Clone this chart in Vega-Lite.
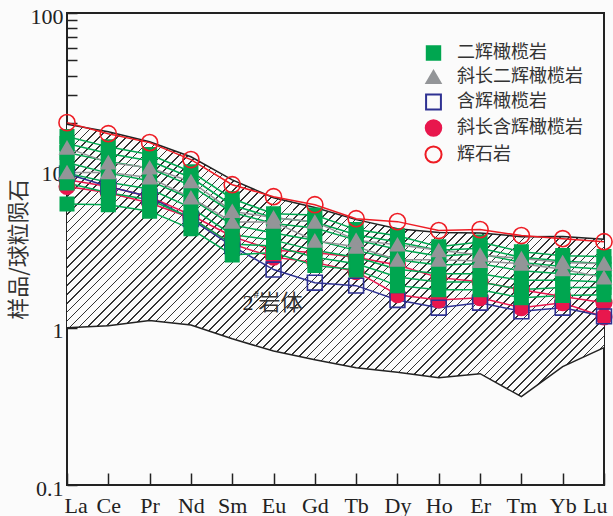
{
"$schema":"https://vega.github.io/schema/vega-lite/v6.json",
"width":537,"height":472,
"autosize":{"type":"none"},
"padding":{"left":67,"top":13,"right":9,"bottom":31},
"background":"#fbfbfb",
"config":{"view":{"stroke":"#222","strokeWidth":2},"font":"Liberation Serif"},
"datasets":{
"b":[
{"e":"La","up":19.6,"lo":1.0},{"e":"Ce","up":17.6,"lo":1.03},{"e":"Pr","up":15.2,"lo":1.11},{"e":"Nd","up":12.2,"lo":1.04},{"e":"Sm","up":8.7,"lo":0.85},{"e":"Eu","up":6.7,"lo":0.71},{"e":"Gd","up":5.8,"lo":0.626},{"e":"Tb","up":4.86,"lo":0.557},{"e":"Dy","up":4.26,"lo":0.52},{"e":"Ho","up":4.02,"lo":0.48},{"e":"Er","up":4.0,"lo":0.51},{"e":"Tm","up":3.79,"lo":0.364},{"e":"Yb","up":3.8,"lo":0.565},{"e":"Lu","up":3.65,"lo":0.746}
],
"s":[
{"t":"斜长含辉橄榄岩","s":"R1","e":"La","v":8.7},{"t":"斜长含辉橄榄岩","s":"R1","e":"Ce","v":7.9},{"t":"斜长含辉橄榄岩","s":"R1","e":"Pr","v":6.8},{"t":"斜长含辉橄榄岩","s":"R1","e":"Nd","v":5.2},{"t":"斜长含辉橄榄岩","s":"R1","e":"Sm","v":3.8},{"t":"斜长含辉橄榄岩","s":"R1","e":"Eu","v":3.1},{"t":"斜长含辉橄榄岩","s":"R1","e":"Gd","v":3.0},{"t":"斜长含辉橄榄岩","s":"R1","e":"Tb","v":2.8},{"t":"斜长含辉橄榄岩","s":"R1","e":"Dy","v":2.5},{"t":"斜长含辉橄榄岩","s":"R1","e":"Ho","v":2.08},{"t":"斜长含辉橄榄岩","s":"R1","e":"Er","v":1.96},{"t":"斜长含辉橄榄岩","s":"R1","e":"Tm","v":1.74},{"t":"斜长含辉橄榄岩","s":"R1","e":"Yb","v":1.58},{"t":"斜长含辉橄榄岩","s":"R1","e":"Lu","v":1.44},
{"t":"斜长含辉橄榄岩","s":"R2","e":"La","v":7.9},{"t":"斜长含辉橄榄岩","s":"R2","e":"Ce","v":7.2},{"t":"斜长含辉橄榄岩","s":"R2","e":"Pr","v":6.2},{"t":"斜长含辉橄榄岩","s":"R2","e":"Nd","v":5.0},{"t":"斜长含辉橄榄岩","s":"R2","e":"Sm","v":3.4},{"t":"斜长含辉橄榄岩","s":"R2","e":"Eu","v":2.8},{"t":"斜长含辉橄榄岩","s":"R2","e":"Gd","v":2.6},{"t":"斜长含辉橄榄岩","s":"R2","e":"Tb","v":2.27},{"t":"斜长含辉橄榄岩","s":"R2","e":"Dy","v":1.62},{"t":"斜长含辉橄榄岩","s":"R2","e":"Ho","v":1.5},{"t":"斜长含辉橄榄岩","s":"R2","e":"Er","v":1.55},{"t":"斜长含辉橄榄岩","s":"R2","e":"Tm","v":1.34},{"t":"斜长含辉橄榄岩","s":"R2","e":"Yb","v":1.44},{"t":"斜长含辉橄榄岩","s":"R2","e":"Lu","v":1.17},
{"t":"含辉橄榄岩","s":"B1","e":"La","v":9.5},{"t":"含辉橄榄岩","s":"B1","e":"Ce","v":7.9},{"t":"含辉橄榄岩","s":"B1","e":"Pr","v":6.8},{"t":"含辉橄榄岩","s":"B1","e":"Nd","v":4.9},{"t":"含辉橄榄岩","s":"B1","e":"Sm","v":3.3},{"t":"含辉橄榄岩","s":"B1","e":"Eu","v":2.34},{"t":"含辉橄榄岩","s":"B1","e":"Gd","v":1.93},{"t":"含辉橄榄岩","s":"B1","e":"Tb","v":1.85},{"t":"含辉橄榄岩","s":"B1","e":"Dy","v":1.5},{"t":"含辉橄榄岩","s":"B1","e":"Ho","v":1.34},{"t":"含辉橄榄岩","s":"B1","e":"Er","v":1.44},{"t":"含辉橄榄岩","s":"B1","e":"Tm","v":1.27},{"t":"含辉橄榄岩","s":"B1","e":"Yb","v":1.34},{"t":"含辉橄榄岩","s":"B1","e":"Lu","v":1.18},
{"t":"二辉橄榄岩","s":"G1","e":"La","v":16.4},{"t":"二辉橄榄岩","s":"G1","e":"Ce","v":14.1},{"t":"二辉橄榄岩","s":"G1","e":"Pr","v":12.6},{"t":"二辉橄榄岩","s":"G1","e":"Nd","v":9.8},{"t":"二辉橄榄岩","s":"G1","e":"Sm","v":6.6},{"t":"二辉橄榄岩","s":"G1","e":"Eu","v":5.3},{"t":"二辉橄榄岩","s":"G1","e":"Gd","v":5.2},{"t":"二辉橄榄岩","s":"G1","e":"Tb","v":4.2},{"t":"二辉橄榄岩","s":"G1","e":"Dy","v":3.84},{"t":"二辉橄榄岩","s":"G1","e":"Ho","v":3.27},{"t":"二辉橄榄岩","s":"G1","e":"Er","v":3.5},{"t":"二辉橄榄岩","s":"G1","e":"Tm","v":3.04},{"t":"二辉橄榄岩","s":"G1","e":"Yb","v":2.87},{"t":"二辉橄榄岩","s":"G1","e":"Lu","v":2.83},
{"t":"二辉橄榄岩","s":"G2","e":"La","v":14.8},{"t":"二辉橄榄岩","s":"G2","e":"Ce","v":12.8},{"t":"二辉橄榄岩","s":"G2","e":"Pr","v":11.5},{"t":"二辉橄榄岩","s":"G2","e":"Nd","v":9.0},{"t":"二辉橄榄岩","s":"G2","e":"Sm","v":6.0},{"t":"二辉橄榄岩","s":"G2","e":"Eu","v":5.0},{"t":"二辉橄榄岩","s":"G2","e":"Gd","v":4.7},{"t":"二辉橄榄岩","s":"G2","e":"Tb","v":3.9},{"t":"二辉橄榄岩","s":"G2","e":"Dy","v":3.5},{"t":"二辉橄榄岩","s":"G2","e":"Ho","v":3.1},{"t":"二辉橄榄岩","s":"G2","e":"Er","v":3.2},{"t":"二辉橄榄岩","s":"G2","e":"Tm","v":2.8},{"t":"二辉橄榄岩","s":"G2","e":"Yb","v":2.65},{"t":"二辉橄榄岩","s":"G2","e":"Lu","v":2.55},
{"t":"二辉橄榄岩","s":"G3","e":"La","v":13.0},{"t":"二辉橄榄岩","s":"G3","e":"Ce","v":11.4},{"t":"二辉橄榄岩","s":"G3","e":"Pr","v":10.3},{"t":"二辉橄榄岩","s":"G3","e":"Nd","v":8.0},{"t":"二辉橄榄岩","s":"G3","e":"Sm","v":5.4},{"t":"二辉橄榄岩","s":"G3","e":"Eu","v":4.6},{"t":"二辉橄榄岩","s":"G3","e":"Gd","v":4.3},{"t":"二辉橄榄岩","s":"G3","e":"Tb","v":3.6},{"t":"二辉橄榄岩","s":"G3","e":"Dy","v":3.15},{"t":"二辉橄榄岩","s":"G3","e":"Ho","v":2.85},{"t":"二辉橄榄岩","s":"G3","e":"Er","v":2.95},{"t":"二辉橄榄岩","s":"G3","e":"Tm","v":2.6},{"t":"二辉橄榄岩","s":"G3","e":"Yb","v":2.45},{"t":"二辉橄榄岩","s":"G3","e":"Lu","v":2.35},
{"t":"二辉橄榄岩","s":"G4","e":"La","v":11.2},{"t":"二辉橄榄岩","s":"G4","e":"Ce","v":9.6},{"t":"二辉橄榄岩","s":"G4","e":"Pr","v":8.6},{"t":"二辉橄榄岩","s":"G4","e":"Nd","v":6.6},{"t":"二辉橄榄岩","s":"G4","e":"Sm","v":4.5},{"t":"二辉橄榄岩","s":"G4","e":"Eu","v":4.0},{"t":"二辉橄榄岩","s":"G4","e":"Gd","v":3.6},{"t":"二辉橄榄岩","s":"G4","e":"Tb","v":3.1},{"t":"二辉橄榄岩","s":"G4","e":"Dy","v":2.7},{"t":"二辉橄榄岩","s":"G4","e":"Ho","v":2.5},{"t":"二辉橄榄岩","s":"G4","e":"Er","v":2.55},{"t":"二辉橄榄岩","s":"G4","e":"Tm","v":2.3},{"t":"二辉橄榄岩","s":"G4","e":"Yb","v":2.2},{"t":"二辉橄榄岩","s":"G4","e":"Lu","v":2.15},
{"t":"二辉橄榄岩","s":"G5","e":"La","v":9.6},{"t":"二辉橄榄岩","s":"G5","e":"Ce","v":8.4},{"t":"二辉橄榄岩","s":"G5","e":"Pr","v":7.6},{"t":"二辉橄榄岩","s":"G5","e":"Nd","v":5.8},{"t":"二辉橄榄岩","s":"G5","e":"Sm","v":3.9},{"t":"二辉橄榄岩","s":"G5","e":"Eu","v":3.6},{"t":"二辉橄榄岩","s":"G5","e":"Gd","v":3.1},{"t":"二辉橄榄岩","s":"G5","e":"Tb","v":2.8},{"t":"二辉橄榄岩","s":"G5","e":"Dy","v":2.35},{"t":"二辉橄榄岩","s":"G5","e":"Ho","v":2.2},{"t":"二辉橄榄岩","s":"G5","e":"Er","v":2.2},{"t":"二辉橄榄岩","s":"G5","e":"Tm","v":2.0},{"t":"二辉橄榄岩","s":"G5","e":"Yb","v":2.0},{"t":"二辉橄榄岩","s":"G5","e":"Lu","v":1.95},
{"t":"二辉橄榄岩","s":"G6","e":"La","v":8.3},{"t":"二辉橄榄岩","s":"G6","e":"Ce","v":7.2},{"t":"二辉橄榄岩","s":"G6","e":"Pr","v":6.5},{"t":"二辉橄榄岩","s":"G6","e":"Nd","v":5.0},{"t":"二辉橄榄岩","s":"G6","e":"Sm","v":3.4},{"t":"二辉橄榄岩","s":"G6","e":"Eu","v":3.3},{"t":"二辉橄榄岩","s":"G6","e":"Gd","v":2.8},{"t":"二辉橄榄岩","s":"G6","e":"Tb","v":2.55},{"t":"二辉橄榄岩","s":"G6","e":"Dy","v":2.1},{"t":"二辉橄榄岩","s":"G6","e":"Ho","v":1.95},{"t":"二辉橄榄岩","s":"G6","e":"Er","v":1.95},{"t":"二辉橄榄岩","s":"G6","e":"Tm","v":1.75},{"t":"二辉橄榄岩","s":"G6","e":"Yb","v":1.8},{"t":"二辉橄榄岩","s":"G6","e":"Lu","v":1.8},
{"t":"二辉橄榄岩","s":"G7","e":"La","v":6.1},{"t":"二辉橄榄岩","s":"G7","e":"Ce","v":6.05},{"t":"二辉橄榄岩","s":"G7","e":"Pr","v":5.5},{"t":"二辉橄榄岩","s":"G7","e":"Nd","v":4.25},{"t":"二辉橄榄岩","s":"G7","e":"Sm","v":2.9},{"t":"二辉橄榄岩","s":"G7","e":"Eu","v":3.0},{"t":"二辉橄榄岩","s":"G7","e":"Gd","v":2.48},{"t":"二辉橄榄岩","s":"G7","e":"Tb","v":2.33},{"t":"二辉橄榄岩","s":"G7","e":"Dy","v":1.85},{"t":"二辉橄榄岩","s":"G7","e":"Ho","v":1.74},{"t":"二辉橄榄岩","s":"G7","e":"Er","v":1.74},{"t":"二辉橄榄岩","s":"G7","e":"Tm","v":1.55},{"t":"二辉橄榄岩","s":"G7","e":"Yb","v":1.6},{"t":"二辉橄榄岩","s":"G7","e":"Lu","v":1.62},
{"t":"斜长二辉橄榄岩","s":"Y1","e":"La","v":13.9},{"t":"斜长二辉橄榄岩","s":"Y1","e":"Ce","v":11.2},{"t":"斜长二辉橄榄岩","s":"Y1","e":"Pr","v":10.4},{"t":"斜长二辉橄榄岩","s":"Y1","e":"Nd","v":8.5},{"t":"斜长二辉橄榄岩","s":"Y1","e":"Sm","v":5.5},{"t":"斜长二辉橄榄岩","s":"Y1","e":"Eu","v":5.0},{"t":"斜长二辉橄榄岩","s":"Y1","e":"Gd","v":4.7},{"t":"斜长二辉橄榄岩","s":"Y1","e":"Tb","v":3.6},{"t":"斜长二辉橄榄岩","s":"Y1","e":"Dy","v":3.37},{"t":"斜长二辉橄榄岩","s":"Y1","e":"Ho","v":3.1},{"t":"斜长二辉橄榄岩","s":"Y1","e":"Er","v":2.9},{"t":"斜长二辉橄榄岩","s":"Y1","e":"Tm","v":2.75},{"t":"斜长二辉橄榄岩","s":"Y1","e":"Yb","v":2.6},{"t":"斜长二辉橄榄岩","s":"Y1","e":"Lu","v":2.55},
{"t":"斜长二辉橄榄岩","s":"Y2","e":"La","v":9.7},{"t":"斜长二辉橄榄岩","s":"Y2","e":"Ce","v":9.7},{"t":"斜长二辉橄榄岩","s":"Y2","e":"Pr","v":9.0},{"t":"斜长二辉橄榄岩","s":"Y2","e":"Nd","v":6.7},{"t":"斜长二辉橄榄岩","s":"Y2","e":"Sm","v":4.7},{"t":"斜长二辉橄榄岩","s":"Y2","e":"Eu","v":4.7},{"t":"斜长二辉橄榄岩","s":"Y2","e":"Gd","v":3.57},{"t":"斜长二辉橄榄岩","s":"Y2","e":"Tb","v":3.27},{"t":"斜长二辉橄榄岩","s":"Y2","e":"Dy","v":2.7},{"t":"斜长二辉橄榄岩","s":"Y2","e":"Ho","v":2.7},{"t":"斜长二辉橄榄岩","s":"Y2","e":"Er","v":2.65},{"t":"斜长二辉橄榄岩","s":"Y2","e":"Tm","v":2.55},{"t":"斜长二辉橄榄岩","s":"Y2","e":"Yb","v":2.35},{"t":"斜长二辉橄榄岩","s":"Y2","e":"Lu","v":2.08},
{"t":"辉石岩","s":"P1","e":"La","v":20.1},{"t":"辉石岩","s":"P1","e":"Ce","v":17.1},{"t":"辉石岩","s":"P1","e":"Pr","v":15.0},{"t":"辉石岩","s":"P1","e":"Nd","v":11.7},{"t":"辉石岩","s":"P1","e":"Sm","v":8.1},{"t":"辉石岩","s":"P1","e":"Eu","v":6.8},{"t":"辉石岩","s":"P1","e":"Gd","v":6.05},{"t":"辉石岩","s":"P1","e":"Tb","v":4.93},{"t":"辉石岩","s":"P1","e":"Dy","v":4.72},{"t":"辉石岩","s":"P1","e":"Ho","v":4.14},{"t":"辉石岩","s":"P1","e":"Er","v":4.2},{"t":"辉石岩","s":"P1","e":"Tm","v":3.85},{"t":"辉石岩","s":"P1","e":"Yb","v":3.68},{"t":"辉石岩","s":"P1","e":"Lu","v":3.52}
]},
"layer":[
{"data":{"name":"b"},
 "mark":{"type":"area","stroke":null,"fill":{"gradient":"linear","x1":0,"y1":0,"x2":1.199,"y2":0.608,"stops":[
{"offset":0,"color":"#fbfbfb"},
{"offset":0.011,"color":"#fbfbfb"},{"offset":0.011,"color":"#333"},{"offset":0.013,"color":"#333"},{"offset":0.013,"color":"#fbfbfb"},
{"offset":0.022,"color":"#fbfbfb"},{"offset":0.022,"color":"#333"},{"offset":0.024,"color":"#333"},{"offset":0.024,"color":"#fbfbfb"},
{"offset":0.033,"color":"#fbfbfb"},{"offset":0.033,"color":"#333"},{"offset":0.035,"color":"#333"},{"offset":0.035,"color":"#fbfbfb"},
{"offset":0.044,"color":"#fbfbfb"},{"offset":0.044,"color":"#333"},{"offset":0.046,"color":"#333"},{"offset":0.046,"color":"#fbfbfb"},
{"offset":0.055,"color":"#fbfbfb"},{"offset":0.055,"color":"#333"},{"offset":0.057,"color":"#333"},{"offset":0.057,"color":"#fbfbfb"},
{"offset":0.066,"color":"#fbfbfb"},{"offset":0.066,"color":"#333"},{"offset":0.068,"color":"#333"},{"offset":0.068,"color":"#fbfbfb"},
{"offset":0.077,"color":"#fbfbfb"},{"offset":0.077,"color":"#333"},{"offset":0.079,"color":"#333"},{"offset":0.079,"color":"#fbfbfb"},
{"offset":0.088,"color":"#fbfbfb"},{"offset":0.088,"color":"#333"},{"offset":0.09,"color":"#333"},{"offset":0.09,"color":"#fbfbfb"},
{"offset":0.099,"color":"#fbfbfb"},{"offset":0.099,"color":"#333"},{"offset":0.101,"color":"#333"},{"offset":0.101,"color":"#fbfbfb"},
{"offset":0.11,"color":"#fbfbfb"},{"offset":0.11,"color":"#333"},{"offset":0.112,"color":"#333"},{"offset":0.112,"color":"#fbfbfb"},
{"offset":0.121,"color":"#fbfbfb"},{"offset":0.121,"color":"#333"},{"offset":0.123,"color":"#333"},{"offset":0.123,"color":"#fbfbfb"},
{"offset":0.132,"color":"#fbfbfb"},{"offset":0.132,"color":"#333"},{"offset":0.134,"color":"#333"},{"offset":0.134,"color":"#fbfbfb"},
{"offset":0.143,"color":"#fbfbfb"},{"offset":0.143,"color":"#333"},{"offset":0.145,"color":"#333"},{"offset":0.145,"color":"#fbfbfb"},
{"offset":0.154,"color":"#fbfbfb"},{"offset":0.154,"color":"#333"},{"offset":0.156,"color":"#333"},{"offset":0.156,"color":"#fbfbfb"},
{"offset":0.165,"color":"#fbfbfb"},{"offset":0.165,"color":"#333"},{"offset":0.167,"color":"#333"},{"offset":0.167,"color":"#fbfbfb"},
{"offset":0.176,"color":"#fbfbfb"},{"offset":0.176,"color":"#333"},{"offset":0.178,"color":"#333"},{"offset":0.178,"color":"#fbfbfb"},
{"offset":0.187,"color":"#fbfbfb"},{"offset":0.187,"color":"#333"},{"offset":0.189,"color":"#333"},{"offset":0.189,"color":"#fbfbfb"},
{"offset":0.198,"color":"#fbfbfb"},{"offset":0.198,"color":"#333"},{"offset":0.2,"color":"#333"},{"offset":0.2,"color":"#fbfbfb"},
{"offset":0.209,"color":"#fbfbfb"},{"offset":0.209,"color":"#333"},{"offset":0.211,"color":"#333"},{"offset":0.211,"color":"#fbfbfb"},
{"offset":0.22,"color":"#fbfbfb"},{"offset":0.22,"color":"#333"},{"offset":0.222,"color":"#333"},{"offset":0.222,"color":"#fbfbfb"},
{"offset":0.231,"color":"#fbfbfb"},{"offset":0.231,"color":"#333"},{"offset":0.233,"color":"#333"},{"offset":0.233,"color":"#fbfbfb"},
{"offset":0.242,"color":"#fbfbfb"},{"offset":0.242,"color":"#333"},{"offset":0.244,"color":"#333"},{"offset":0.244,"color":"#fbfbfb"},
{"offset":0.253,"color":"#fbfbfb"},{"offset":0.253,"color":"#333"},{"offset":0.255,"color":"#333"},{"offset":0.255,"color":"#fbfbfb"},
{"offset":0.264,"color":"#fbfbfb"},{"offset":0.264,"color":"#333"},{"offset":0.266,"color":"#333"},{"offset":0.266,"color":"#fbfbfb"},
{"offset":0.275,"color":"#fbfbfb"},{"offset":0.275,"color":"#333"},{"offset":0.277,"color":"#333"},{"offset":0.277,"color":"#fbfbfb"},
{"offset":0.286,"color":"#fbfbfb"},{"offset":0.286,"color":"#333"},{"offset":0.288,"color":"#333"},{"offset":0.288,"color":"#fbfbfb"},
{"offset":0.297,"color":"#fbfbfb"},{"offset":0.297,"color":"#333"},{"offset":0.299,"color":"#333"},{"offset":0.299,"color":"#fbfbfb"},
{"offset":0.308,"color":"#fbfbfb"},{"offset":0.308,"color":"#333"},{"offset":0.31,"color":"#333"},{"offset":0.31,"color":"#fbfbfb"},
{"offset":0.319,"color":"#fbfbfb"},{"offset":0.319,"color":"#333"},{"offset":0.321,"color":"#333"},{"offset":0.321,"color":"#fbfbfb"},
{"offset":0.33,"color":"#fbfbfb"},{"offset":0.33,"color":"#333"},{"offset":0.332,"color":"#333"},{"offset":0.332,"color":"#fbfbfb"},
{"offset":0.341,"color":"#fbfbfb"},{"offset":0.341,"color":"#333"},{"offset":0.343,"color":"#333"},{"offset":0.343,"color":"#fbfbfb"},
{"offset":0.352,"color":"#fbfbfb"},{"offset":0.352,"color":"#333"},{"offset":0.354,"color":"#333"},{"offset":0.354,"color":"#fbfbfb"},
{"offset":0.363,"color":"#fbfbfb"},{"offset":0.363,"color":"#333"},{"offset":0.365,"color":"#333"},{"offset":0.365,"color":"#fbfbfb"},
{"offset":0.374,"color":"#fbfbfb"},{"offset":0.374,"color":"#333"},{"offset":0.376,"color":"#333"},{"offset":0.376,"color":"#fbfbfb"},
{"offset":0.385,"color":"#fbfbfb"},{"offset":0.385,"color":"#333"},{"offset":0.387,"color":"#333"},{"offset":0.387,"color":"#fbfbfb"},
{"offset":0.396,"color":"#fbfbfb"},{"offset":0.396,"color":"#333"},{"offset":0.398,"color":"#333"},{"offset":0.398,"color":"#fbfbfb"},
{"offset":0.407,"color":"#fbfbfb"},{"offset":0.407,"color":"#333"},{"offset":0.409,"color":"#333"},{"offset":0.409,"color":"#fbfbfb"},
{"offset":0.418,"color":"#fbfbfb"},{"offset":0.418,"color":"#333"},{"offset":0.42,"color":"#333"},{"offset":0.42,"color":"#fbfbfb"},
{"offset":0.429,"color":"#fbfbfb"},{"offset":0.429,"color":"#333"},{"offset":0.431,"color":"#333"},{"offset":0.431,"color":"#fbfbfb"},
{"offset":0.44,"color":"#fbfbfb"},{"offset":0.44,"color":"#333"},{"offset":0.442,"color":"#333"},{"offset":0.442,"color":"#fbfbfb"},
{"offset":0.451,"color":"#fbfbfb"},{"offset":0.451,"color":"#333"},{"offset":0.453,"color":"#333"},{"offset":0.453,"color":"#fbfbfb"},
{"offset":0.462,"color":"#fbfbfb"},{"offset":0.462,"color":"#333"},{"offset":0.464,"color":"#333"},{"offset":0.464,"color":"#fbfbfb"},
{"offset":0.473,"color":"#fbfbfb"},{"offset":0.473,"color":"#333"},{"offset":0.475,"color":"#333"},{"offset":0.475,"color":"#fbfbfb"},
{"offset":0.484,"color":"#fbfbfb"},{"offset":0.484,"color":"#333"},{"offset":0.486,"color":"#333"},{"offset":0.486,"color":"#fbfbfb"},
{"offset":0.495,"color":"#fbfbfb"},{"offset":0.495,"color":"#333"},{"offset":0.497,"color":"#333"},{"offset":0.497,"color":"#fbfbfb"},
{"offset":0.506,"color":"#fbfbfb"},{"offset":0.506,"color":"#333"},{"offset":0.508,"color":"#333"},{"offset":0.508,"color":"#fbfbfb"},
{"offset":0.517,"color":"#fbfbfb"},{"offset":0.517,"color":"#333"},{"offset":0.519,"color":"#333"},{"offset":0.519,"color":"#fbfbfb"},
{"offset":0.528,"color":"#fbfbfb"},{"offset":0.528,"color":"#333"},{"offset":0.53,"color":"#333"},{"offset":0.53,"color":"#fbfbfb"},
{"offset":0.539,"color":"#fbfbfb"},{"offset":0.539,"color":"#333"},{"offset":0.541,"color":"#333"},{"offset":0.541,"color":"#fbfbfb"},
{"offset":0.55,"color":"#fbfbfb"},{"offset":0.55,"color":"#333"},{"offset":0.552,"color":"#333"},{"offset":0.552,"color":"#fbfbfb"},
{"offset":0.561,"color":"#fbfbfb"},{"offset":0.561,"color":"#333"},{"offset":0.563,"color":"#333"},{"offset":0.563,"color":"#fbfbfb"},
{"offset":0.572,"color":"#fbfbfb"},{"offset":0.572,"color":"#333"},{"offset":0.574,"color":"#333"},{"offset":0.574,"color":"#fbfbfb"},
{"offset":0.583,"color":"#fbfbfb"},{"offset":0.583,"color":"#333"},{"offset":0.585,"color":"#333"},{"offset":0.585,"color":"#fbfbfb"},
{"offset":0.594,"color":"#fbfbfb"},{"offset":0.594,"color":"#333"},{"offset":0.596,"color":"#333"},{"offset":0.596,"color":"#fbfbfb"},
{"offset":0.605,"color":"#fbfbfb"},{"offset":0.605,"color":"#333"},{"offset":0.607,"color":"#333"},{"offset":0.607,"color":"#fbfbfb"},
{"offset":0.616,"color":"#fbfbfb"},{"offset":0.616,"color":"#333"},{"offset":0.618,"color":"#333"},{"offset":0.618,"color":"#fbfbfb"},
{"offset":0.627,"color":"#fbfbfb"},{"offset":0.627,"color":"#333"},{"offset":0.629,"color":"#333"},{"offset":0.629,"color":"#fbfbfb"},
{"offset":0.638,"color":"#fbfbfb"},{"offset":0.638,"color":"#333"},{"offset":0.64,"color":"#333"},{"offset":0.64,"color":"#fbfbfb"},
{"offset":0.649,"color":"#fbfbfb"},{"offset":0.649,"color":"#333"},{"offset":0.651,"color":"#333"},{"offset":0.651,"color":"#fbfbfb"},
{"offset":0.66,"color":"#fbfbfb"},{"offset":0.66,"color":"#333"},{"offset":0.662,"color":"#333"},{"offset":0.662,"color":"#fbfbfb"},
{"offset":0.671,"color":"#fbfbfb"},{"offset":0.671,"color":"#333"},{"offset":0.673,"color":"#333"},{"offset":0.673,"color":"#fbfbfb"},
{"offset":0.682,"color":"#fbfbfb"},{"offset":0.682,"color":"#333"},{"offset":0.684,"color":"#333"},{"offset":0.684,"color":"#fbfbfb"},
{"offset":0.693,"color":"#fbfbfb"},{"offset":0.693,"color":"#333"},{"offset":0.695,"color":"#333"},{"offset":0.695,"color":"#fbfbfb"},
{"offset":0.704,"color":"#fbfbfb"},{"offset":0.704,"color":"#333"},{"offset":0.706,"color":"#333"},{"offset":0.706,"color":"#fbfbfb"},
{"offset":0.715,"color":"#fbfbfb"},{"offset":0.715,"color":"#333"},{"offset":0.717,"color":"#333"},{"offset":0.717,"color":"#fbfbfb"},
{"offset":0.726,"color":"#fbfbfb"},{"offset":0.726,"color":"#333"},{"offset":0.728,"color":"#333"},{"offset":0.728,"color":"#fbfbfb"},
{"offset":0.737,"color":"#fbfbfb"},{"offset":0.737,"color":"#333"},{"offset":0.739,"color":"#333"},{"offset":0.739,"color":"#fbfbfb"},
{"offset":0.748,"color":"#fbfbfb"},{"offset":0.748,"color":"#333"},{"offset":0.75,"color":"#333"},{"offset":0.75,"color":"#fbfbfb"},
{"offset":0.759,"color":"#fbfbfb"},{"offset":0.759,"color":"#333"},{"offset":0.761,"color":"#333"},{"offset":0.761,"color":"#fbfbfb"},
{"offset":0.77,"color":"#fbfbfb"},{"offset":0.77,"color":"#333"},{"offset":0.772,"color":"#333"},{"offset":0.772,"color":"#fbfbfb"},
{"offset":0.781,"color":"#fbfbfb"},{"offset":0.781,"color":"#333"},{"offset":0.783,"color":"#333"},{"offset":0.783,"color":"#fbfbfb"},
{"offset":0.792,"color":"#fbfbfb"},{"offset":0.792,"color":"#333"},{"offset":0.794,"color":"#333"},{"offset":0.794,"color":"#fbfbfb"},
{"offset":0.803,"color":"#fbfbfb"},{"offset":0.803,"color":"#333"},{"offset":0.805,"color":"#333"},{"offset":0.805,"color":"#fbfbfb"},
{"offset":0.814,"color":"#fbfbfb"},{"offset":0.814,"color":"#333"},{"offset":0.816,"color":"#333"},{"offset":0.816,"color":"#fbfbfb"},
{"offset":0.825,"color":"#fbfbfb"},{"offset":0.825,"color":"#333"},{"offset":0.827,"color":"#333"},{"offset":0.827,"color":"#fbfbfb"},
{"offset":0.836,"color":"#fbfbfb"},{"offset":0.836,"color":"#333"},{"offset":0.838,"color":"#333"},{"offset":0.838,"color":"#fbfbfb"},
{"offset":0.847,"color":"#fbfbfb"},{"offset":0.847,"color":"#333"},{"offset":0.849,"color":"#333"},{"offset":0.849,"color":"#fbfbfb"},
{"offset":0.858,"color":"#fbfbfb"},{"offset":0.858,"color":"#333"},{"offset":0.86,"color":"#333"},{"offset":0.86,"color":"#fbfbfb"},
{"offset":0.869,"color":"#fbfbfb"},{"offset":0.869,"color":"#333"},{"offset":0.871,"color":"#333"},{"offset":0.871,"color":"#fbfbfb"},
{"offset":0.88,"color":"#fbfbfb"},{"offset":0.88,"color":"#333"},{"offset":0.882,"color":"#333"},{"offset":0.882,"color":"#fbfbfb"},
{"offset":0.891,"color":"#fbfbfb"},{"offset":0.891,"color":"#333"},{"offset":0.893,"color":"#333"},{"offset":0.893,"color":"#fbfbfb"},
{"offset":0.902,"color":"#fbfbfb"},{"offset":0.902,"color":"#333"},{"offset":0.904,"color":"#333"},{"offset":0.904,"color":"#fbfbfb"},
{"offset":0.913,"color":"#fbfbfb"},{"offset":0.913,"color":"#333"},{"offset":0.915,"color":"#333"},{"offset":0.915,"color":"#fbfbfb"},
{"offset":0.924,"color":"#fbfbfb"},{"offset":0.924,"color":"#333"},{"offset":0.926,"color":"#333"},{"offset":0.926,"color":"#fbfbfb"},
{"offset":0.935,"color":"#fbfbfb"},{"offset":0.935,"color":"#333"},{"offset":0.937,"color":"#333"},{"offset":0.937,"color":"#fbfbfb"},
{"offset":0.946,"color":"#fbfbfb"},{"offset":0.946,"color":"#333"},{"offset":0.948,"color":"#333"},{"offset":0.948,"color":"#fbfbfb"},
{"offset":0.957,"color":"#fbfbfb"},{"offset":0.957,"color":"#333"},{"offset":0.959,"color":"#333"},{"offset":0.959,"color":"#fbfbfb"},
{"offset":0.968,"color":"#fbfbfb"},{"offset":0.968,"color":"#333"},{"offset":0.97,"color":"#333"},{"offset":0.97,"color":"#fbfbfb"},
{"offset":0.979,"color":"#fbfbfb"},{"offset":0.979,"color":"#333"},{"offset":0.981,"color":"#333"},{"offset":0.981,"color":"#fbfbfb"},
{"offset":0.99,"color":"#fbfbfb"},{"offset":0.99,"color":"#333"},{"offset":0.992,"color":"#333"},{"offset":0.992,"color":"#fbfbfb"},
{"offset":1,"color":"#fbfbfb"}
 ]}},
 "encoding":{
  "x":{"field":"e","type":"nominal","sort":["La","Ce","Pr","Nd","Sm","Eu","Gd","Tb","Dy","Ho","Er","Tm","Yb","Lu"],"scale":{"type":"point","padding":0,"domain":["La","Ce","Pr","Nd","Sm","Eu","Gd","Tb","Dy","Ho","Er","Tm","Yb","Lu"]},
   "axis":{"title":null,"domain":false,"grid":false,"labelAngle":0,"labelFont":"Liberation Serif","labelFontSize":22,"labelColor":"#222","tickSize":-12,"tickColor":"#222","tickWidth":1.5,"labelPadding":22,"labelFlush":true,"labelFlushOffset":3}},
  "y":{"field":"up","type":"quantitative","scale":{"type":"log","domain":[0.1,100],"nice":false},
   "axis":{"title":"样品/球粒陨石","titleFont":"Noto Sans CJK SC","titleFontSize":22,"titleFontWeight":"normal","titleColor":"#333","titleX":-49,"titleBaseline":"middle","titleAngle":-90,"titleAlign":"center",
    "values":[0.1,1,10,20,30,40,50,60,70,80,90,100],
    "labelExpr":"datum.value == 100 ? '100' : datum.value == 10 ? '10' : datum.value == 1 ? '1' : datum.value == 0.1 ? '0.1' : ''",
    "labelOverlap":false,"labelBound":false,"labelFont":"Liberation Serif","labelFontSize":22,"labelColor":"#222","labelPadding":14,"labelOffset":3,
    "domain":false,"grid":false,"tickSize":-10,"tickColor":"#222","tickWidth":1.5}},
  "y2":{"field":"lo"}
 }},
{"data":{"name":"b"},"mark":{"type":"line","color":"#222","strokeWidth":1.5},
 "encoding":{"x":{"field":"e","type":"nominal","sort":["La","Ce","Pr","Nd","Sm","Eu","Gd","Tb","Dy","Ho","Er","Tm","Yb","Lu"]},"y":{"field":"up","type":"quantitative"}}},
{"data":{"name":"b"},"mark":{"type":"line","color":"#222","strokeWidth":1.5},
 "encoding":{"x":{"field":"e","type":"nominal","sort":["La","Ce","Pr","Nd","Sm","Eu","Gd","Tb","Dy","Ho","Er","Tm","Yb","Lu"]},"y":{"field":"lo","type":"quantitative"}}},
{"data":{"name":"s"},"mark":{"type":"line","strokeWidth":1.5},
 "encoding":{"x":{"field":"e","type":"nominal","sort":["La","Ce","Pr","Nd","Sm","Eu","Gd","Tb","Dy","Ho","Er","Tm","Yb","Lu"]},"y":{"field":"v","type":"quantitative"},
  "detail":{"field":"s"},
  "color":{"field":"t","type":"nominal","legend":null,"scale":{"domain":["辉石岩","斜长含辉橄榄岩","含辉橄榄岩","斜长二辉橄榄岩","二辉橄榄岩"],"range":["#ee1c24","#e8174d","#2e3192","#939598","#00a650"]}}}},
{"data":{"name":"s"},"mark":{"type":"point","opacity":1,"strokeWidth":1.6},
 "encoding":{"x":{"field":"e","type":"nominal"},"y":{"field":"v","type":"quantitative"},
  "shape":{"field":"t","type":"nominal","scale":{"domain":["二辉橄榄岩","斜长二辉橄榄岩","含辉橄榄岩","斜长含辉橄榄岩","辉石岩"],"range":["square","triangle-up","square","circle","circle"]},
   "legend":{"title":null,"orient":"none","legendX":357,"legendY":31,"padding":0,"labelFont":"Noto Sans CJK SC","labelFontSize":18,"labelColor":"#333","rowPadding":2,"labelOffset":14,"symbolStrokeWidth":2}},
  "fill":{"field":"t","type":"nominal","scale":{"domain":["二辉橄榄岩","斜长二辉橄榄岩","含辉橄榄岩","斜长含辉橄榄岩","辉石岩"],"range":["#00a650","#939598","transparent","#e8174d","transparent"]},
   "legend":{"title":null,"orient":"none","legendX":357,"legendY":31,"padding":0,"labelFont":"Noto Sans CJK SC","labelFontSize":18,"labelColor":"#333","rowPadding":2,"labelOffset":14,"symbolStrokeWidth":2}},
  "stroke":{"field":"t","type":"nominal","scale":{"domain":["二辉橄榄岩","斜长二辉橄榄岩","含辉橄榄岩","斜长含辉橄榄岩","辉石岩"],"range":["#00a650","#939598","#2e3192","#e8174d","#ee1c24"]},
   "legend":{"title":null,"orient":"none","legendX":357,"legendY":31,"padding":0,"labelFont":"Noto Sans CJK SC","labelFontSize":18,"labelColor":"#333","rowPadding":2,"labelOffset":14,"symbolStrokeWidth":2}},
  "size":{"field":"t","type":"nominal","scale":{"domain":["二辉橄榄岩","斜长二辉橄榄岩","含辉橄榄岩","斜长含辉橄榄岩","辉石岩"],"range":[180,260,150,144,80]},
   "legend":{"title":null,"orient":"none","legendX":357,"legendY":31,"padding":0,"labelFont":"Noto Sans CJK SC","labelFontSize":18,"labelColor":"#333","rowPadding":2,"labelOffset":14,"symbolStrokeWidth":2}}
 }},
{"data":{"values":[{}]},"mark":{"type":"text","text":"2","font":"Liberation Serif","fontSize":22,"align":"left","baseline":"middle","dx":-31,"color":"#222"},
 "encoding":{"x":{"datum":"Eu","type":"nominal"},"y":{"datum":1.44,"type":"quantitative"}}},
{"data":{"values":[{}]},"mark":{"type":"text","text":"#","font":"Liberation Serif","fontSize":11,"align":"left","baseline":"middle","dx":-20,"dy":-8,"color":"#222"},
 "encoding":{"x":{"datum":"Eu","type":"nominal"},"y":{"datum":1.44,"type":"quantitative"}}},
{"data":{"values":[{}]},"mark":{"type":"text","text":"岩体","font":"Noto Sans CJK SC","fontSize":22,"align":"left","baseline":"middle","dx":-15,"color":"#333"},
 "encoding":{"x":{"datum":"Eu","type":"nominal"},"y":{"datum":1.44,"type":"quantitative"}}}
]
}
